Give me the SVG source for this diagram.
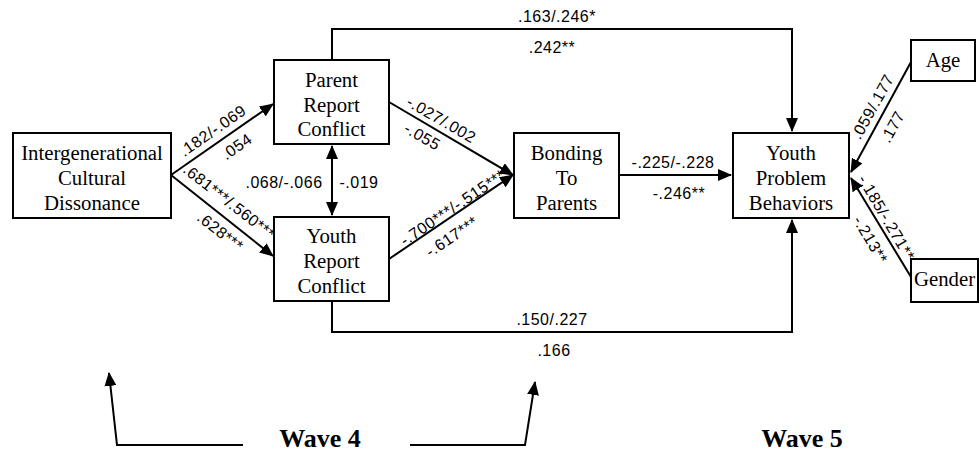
<svg xmlns="http://www.w3.org/2000/svg" width="979" height="455" viewBox="0 0 979 455">
<defs>
<marker id="ah" markerUnits="userSpaceOnUse" markerWidth="14" markerHeight="12" viewBox="0 0 14 12" refX="13" refY="6" orient="auto-start-reverse">
<path d="M0,0 L14,6 L0,12 Z" fill="#000"/>
</marker>
</defs>
<style>
.box{fill:#fff;stroke:#000;stroke-width:2}
.nt{font-family:"Liberation Serif","Times New Roman",serif;font-size:20.8px;text-anchor:middle;fill:#000}
.ln{fill:none;stroke:#000;stroke-width:2}
.lb{font-family:"Liberation Sans",Arial,sans-serif;font-size:16px;letter-spacing:0.5px;text-anchor:middle;fill:#000}
.wv{font-family:"Liberation Serif","Times New Roman",serif;font-size:26px;font-weight:bold;text-anchor:middle;fill:#000}
</style>
<rect width="979" height="455" fill="#fff"/>
<g id="connectors">
<path class="ln" d="M332,60 V29 H792 V131" marker-end="url(#ah)"/>
<path class="ln" d="M332,301 V332 H792 V220" marker-end="url(#ah)"/>
<path class="ln" d="M171,175 L273,104" marker-end="url(#ah)"/>
<path class="ln" d="M171,175 L273,256" marker-end="url(#ah)"/>
<path class="ln" d="M332,146 L332,215" marker-start="url(#ah)" marker-end="url(#ah)"/>
<path class="ln" d="M389,102 L513,175" marker-end="url(#ah)"/>
<path class="ln" d="M389,259 L513,175" marker-end="url(#ah)"/>
<path class="ln" d="M619,175 L731,175" marker-end="url(#ah)"/>
<path class="ln" d="M911,62 L851,172" marker-end="url(#ah)"/>
<path class="ln" d="M911,277 L851,178" marker-end="url(#ah)"/>
<path class="ln" d="M243,445 H117 L109,373" marker-end="url(#ah)"/>
<path class="ln" d="M410,445 H525 L535,382" marker-end="url(#ah)"/>
</g>
<g id="labels">
<text class="lb" x="557" y="22">.163/.246*</text>
<text class="lb" x="552" y="53">.242**</text>
<text class="lb" x="552" y="325">.150/.227</text>
<text class="lb" x="554" y="356">.166</text>
<text class="lb" x="284" y="188">.068/-.066</text>
<text class="lb" x="359" y="188">-.019</text>
<text class="lb" x="673" y="168">-.225/-.228</text>
<text class="lb" x="679" y="199">-.246**</text>
<text class="lb" transform="translate(213,131) rotate(-35)" y="5">.182/-.069</text>
<text class="lb" transform="translate(237,147) rotate(-35)" y="5">.054</text>
<text class="lb" transform="translate(229,202) rotate(38)" y="5">.681***/.560***</text>
<text class="lb" transform="translate(220,232) rotate(38)" y="5">.628***</text>
<text class="lb" transform="translate(441,120) rotate(30)" y="5">-.027/.002</text>
<text class="lb" transform="translate(422,137) rotate(30)" y="5">-.055</text>
<text class="lb" transform="translate(453,208) rotate(-34)" y="5">-.700***/-.515***</text>
<text class="lb" transform="translate(452,237) rotate(-34)" y="5">-.617***</text>
<text class="lb" transform="translate(873,107) rotate(-61)" y="5">.059/.177</text>
<text class="lb" transform="translate(893,127) rotate(-61)" y="5">.177</text>
<text class="lb" transform="translate(886,218) rotate(59.5)" y="5">-.185/-.271**</text>
<text class="lb" transform="translate(870,240) rotate(59.5)" y="5">-.213**</text>
<text class="wv" x="320" y="447">Wave 4</text>
<text class="wv" x="802" y="447">Wave 5</text>
</g>
<g id="icd">
<rect class="box" x="13" y="133" width="158" height="85"/>
<text class="nt" x="92" y="160">Intergenerational</text>
<text class="nt" x="92" y="185">Cultural</text>
<text class="nt" x="92" y="210">Dissonance</text>
</g>
<g id="prc">
<rect class="box" x="274" y="60" width="115" height="84"/>
<text class="nt" x="331.5" y="87">Parent</text>
<text class="nt" x="331.5" y="112">Report</text>
<text class="nt" x="331.5" y="136">Conflict</text>
</g>
<g id="yrc">
<rect class="box" x="274" y="217" width="115" height="84"/>
<text class="nt" x="331.5" y="243">Youth</text>
<text class="nt" x="331.5" y="268">Report</text>
<text class="nt" x="331.5" y="293">Conflict</text>
</g>
<g id="btp">
<rect class="box" x="514" y="133" width="105" height="85"/>
<text class="nt" x="566.5" y="160">Bonding</text>
<text class="nt" x="566.5" y="185">To</text>
<text class="nt" x="566.5" y="210">Parents</text>
</g>
<g id="ypb">
<rect class="box" x="733" y="133" width="116" height="85"/>
<text class="nt" x="791" y="160">Youth</text>
<text class="nt" x="791" y="185">Problem</text>
<text class="nt" x="791" y="210">Behaviors</text>
</g>
<g id="age">
<rect class="box" x="911" y="40" width="64" height="41"/>
<text class="nt" x="943" y="67">Age</text>
</g>
<g id="gender">
<rect class="box" x="911" y="259" width="67" height="43"/>
<text class="nt" x="944.5" y="286">Gender</text>
</g>
</svg>
